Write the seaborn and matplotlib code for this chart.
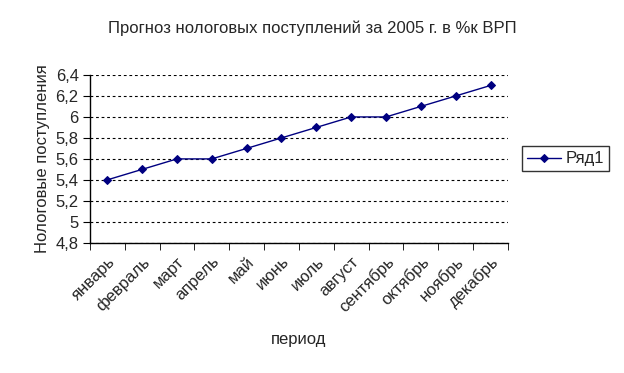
import numpy as np
import pandas as pd
import seaborn as sns
import matplotlib.pyplot as plt

# Data
months = ['январь', 'февраль', 'март', 'апрель', 'май', 'июнь', 'июль',
          'август', 'сентябрь', 'октябрь', 'ноябрь', 'декабрь']
values = [5.4, 5.5, 5.6, 5.6, 5.7, 5.8, 5.9, 6.0, 6.0, 6.1, 6.2, 6.3]
yticks = [4.8, 5.0, 5.2, 5.4, 5.6, 5.8, 6.0, 6.2, 6.4]

df = pd.DataFrame({'period': months, 'value': values})

sns.set_style('white')
plt.rcParams['font.family'] = ['Liberation Sans', 'DejaVu Sans']

fig = plt.figure(figsize=(6.24, 3.73), dpi=100)
ax = fig.add_axes([0.144, 0.349, 0.670, 0.450])

sns.lineplot(data=df, x='period', y='value', ax=ax, sort=False,
             color='#000080', linewidth=1, marker='D', markersize=4,
             markeredgecolor='#000080', label='Ряд1')

ax.set_xlim(-0.5, len(months) - 0.5)
ax.set_ylim(4.8, 6.4)
ax.set_yticks(yticks)
ax.set_yticklabels([('%g' % v).replace('.', ',') for v in yticks], fontsize=12)
ax.yaxis.grid(True, color='black', linestyle=(0, (2.5, 2.5)), linewidth=0.8)

ax.set_xticks(range(len(months)))
ax.set_xticklabels(months, rotation=45, ha='right', rotation_mode='anchor', fontsize=12)
ax.set_xticks(np.arange(-0.5, len(months)), minor=True)
ax.tick_params(axis='x', which='major', length=0, pad=8)
ax.tick_params(axis='x', which='minor', length=5, direction='out', color='black', bottom=True)
ax.tick_params(axis='y', length=5, direction='out', color='black', left=True, pad=3)

for s in ['top', 'right']:
    ax.spines[s].set_visible(False)
for s in ['left', 'bottom']:
    ax.spines[s].set_color('black')
    ax.spines[s].set_linewidth(1)

ax.set_xlabel('период', fontsize=12, labelpad=12)
ax.set_ylabel('Нологовые поступления', fontsize=12, labelpad=4)
fig.suptitle('Прогноз нологовых поступлений за 2005 г. в %к ВРП', fontsize=12, y=0.945)

leg = ax.legend(loc='center left', bbox_to_anchor=(0.837, 0.574), bbox_transform=fig.transFigure,
                frameon=True, fancybox=False, edgecolor='black', fontsize=12,
                handlelength=2.0, borderpad=0.3, borderaxespad=0, handletextpad=0.3)
leg.get_frame().set_linewidth(1)

fig.savefig('out.png', dpi=100)
